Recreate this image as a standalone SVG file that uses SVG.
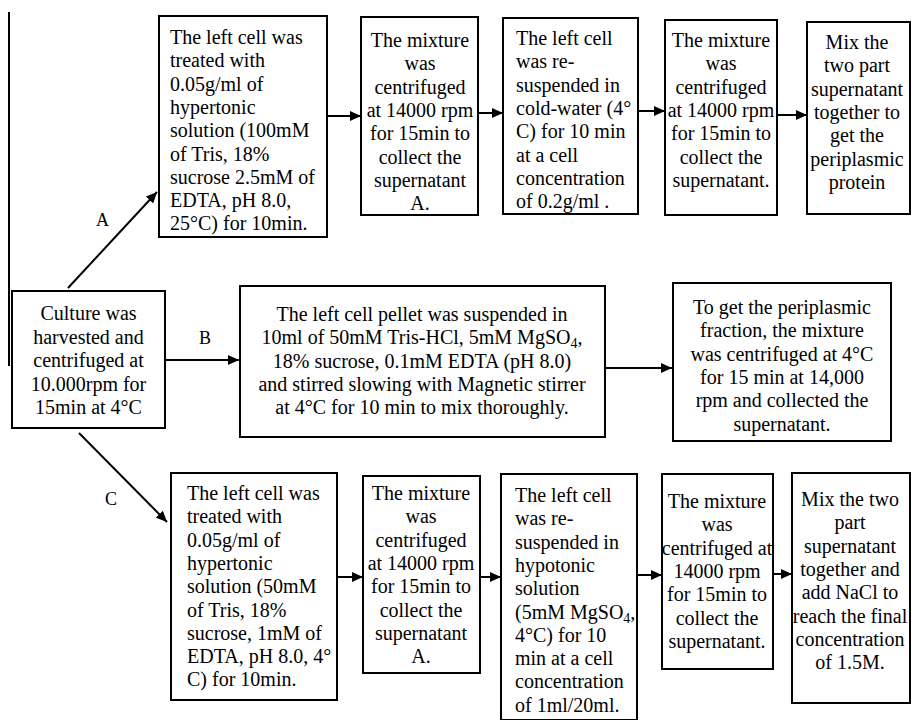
<svg xmlns="http://www.w3.org/2000/svg" width="911" height="720" viewBox="0 0 911 720">
<style>
.box{fill:#fff;stroke:#000;stroke-width:2}
text{font-family:"Liberation Serif","Times New Roman",serif;font-size:20px;fill:#000}
.c{text-anchor:middle}
.lbl{font-size:18px}
.con{stroke:#000;stroke-width:2;fill:none}
</style>
<defs>
<marker id="ah" markerUnits="userSpaceOnUse" markerWidth="12" markerHeight="10" refX="11" refY="5" orient="auto">
<path d="M0,0 L11,5 L0,10 z" fill="#000"/>
</marker>
</defs>
<rect width="911" height="720" fill="#fff"/>
<g id="connectors">
<line class="con" x1="9" y1="12" x2="9" y2="366"/>
<line class="con" x1="68" y1="288" x2="157" y2="192" marker-end="url(#ah)"/>
<line class="con" x1="165" y1="360" x2="239" y2="360" marker-end="url(#ah)"/>
<line class="con" x1="79" y1="433" x2="167" y2="522" marker-end="url(#ah)"/>
<line class="con" x1="327" y1="116" x2="361" y2="116" marker-end="url(#ah)"/>
<line class="con" x1="478" y1="113" x2="503" y2="113" marker-end="url(#ah)"/>
<line class="con" x1="638" y1="111" x2="665" y2="111" marker-end="url(#ah)"/>
<line class="con" x1="777" y1="115" x2="807" y2="115" marker-end="url(#ah)"/>
<line class="con" x1="605" y1="368" x2="672" y2="368" marker-end="url(#ah)"/>
<line class="con" x1="337" y1="577" x2="363" y2="577" marker-end="url(#ah)"/>
<line class="con" x1="480" y1="577" x2="501" y2="577" marker-end="url(#ah)"/>
<line class="con" x1="637" y1="575" x2="662" y2="575" marker-end="url(#ah)"/>
<line class="con" x1="773" y1="574" x2="792" y2="574" marker-end="url(#ah)"/>
<text class="lbl" x="96" y="226">A</text>
<text class="lbl" x="199" y="344">B</text>
<text class="lbl" x="105" y="505">C</text>
</g>
<g id="culture">
<rect class="box" x="12" y="291" width="153" height="137"/>
<text class="c" x="88.5" y="320">Culture was</text>
<text class="c" x="88.5" y="343.5">harvested and</text>
<text class="c" x="88.5" y="367">centrifuged at</text>
<text class="c" x="88.5" y="390.5">10.000rpm for</text>
<text class="c" x="88.5" y="414">15min at 4°C</text>
</g>
<g id="a1">
<rect class="box" x="159" y="16" width="168" height="221"/>
<text x="170" y="44">The left cell was</text>
<text x="170" y="67.3">treated with</text>
<text x="170" y="90.6">0.05g/ml of</text>
<text x="170" y="113.9">hypertonic</text>
<text x="170" y="137.2">solution (100mM</text>
<text x="170" y="160.5">of Tris, 18%</text>
<text x="170" y="183.8">sucrose 2.5mM of</text>
<text x="170" y="207.1">EDTA, pH 8.0,</text>
<text x="170" y="230.4">25°C) for 10min.</text>
</g>
<g id="a2">
<rect class="box" x="361" y="17" width="117" height="198"/>
<text class="c" x="420" y="47">The mixture</text>
<text class="c" x="420" y="70.3">was</text>
<text class="c" x="420" y="93.6">centrifuged</text>
<text class="c" x="420" y="116.9">at 14000 rpm</text>
<text class="c" x="420" y="140.2">for 15min to</text>
<text class="c" x="420" y="163.5">collect the</text>
<text class="c" x="420" y="186.8">supernatant</text>
<text class="c" x="420" y="210.1">A.</text>
</g>
<g id="a3">
<rect class="box" x="503" y="18" width="135" height="196"/>
<text x="516" y="45">The left cell</text>
<text x="516" y="68.3">was re-</text>
<text x="516" y="91.6">suspended in</text>
<text x="516" y="114.9">cold-water (4°</text>
<text x="516" y="138.2">C) for 10 min</text>
<text x="516" y="161.5">at a cell</text>
<text x="516" y="184.8">concentration</text>
<text x="516" y="208.1">of 0.2g/ml .</text>
</g>
<g id="a4">
<rect class="box" x="665" y="20" width="112" height="195"/>
<text class="c" x="721" y="47">The mixture</text>
<text class="c" x="721" y="70.3">was</text>
<text class="c" x="721" y="93.6">centrifuged</text>
<text class="c" x="721" y="116.9">at 14000 rpm</text>
<text class="c" x="721" y="140.2">for 15min to</text>
<text class="c" x="721" y="163.5">collect the</text>
<text class="c" x="721" y="186.8">supernatant.</text>
</g>
<g id="a5">
<rect class="box" x="807" y="22" width="103" height="192"/>
<text class="c" x="857" y="49">Mix the</text>
<text class="c" x="857" y="72.3">two part</text>
<text class="c" x="857" y="95.6">supernatant</text>
<text class="c" x="857" y="118.9">together to</text>
<text class="c" x="857" y="142.2">get the</text>
<text class="c" x="857" y="165.5">periplasmic</text>
<text class="c" x="857" y="188.8">protein</text>
</g>
<g id="b1">
<rect class="box" x="240" y="286" width="365" height="151"/>
<text class="c" x="422" y="321">The left cell pellet was suspended in</text>
<text class="c" x="422" y="344.3">10ml of 50mM Tris-HCl, 5mM MgSO<tspan font-size="14" dy="4">4</tspan><tspan dy="-4">,</tspan></text>
<text class="c" x="422" y="367.6">18% sucrose, 0.1mM EDTA (pH 8.0)</text>
<text class="c" x="422" y="390.9">and stirred slowing with Magnetic stirrer</text>
<text class="c" x="422" y="414.2">at 4°C for 10 min to mix thoroughly.</text>
</g>
<g id="b2">
<rect class="box" x="673" y="283" width="218" height="158"/>
<text class="c" x="782" y="314">To get the periplasmic</text>
<text class="c" x="782" y="337.3">fraction, the mixture</text>
<text class="c" x="782" y="360.6">was centrifuged at 4°C</text>
<text class="c" x="782" y="383.9">for 15 min at 14,000</text>
<text class="c" x="782" y="407.2">rpm and collected the</text>
<text class="c" x="782" y="430.5">supernatant.</text>
</g>
<g id="c1">
<rect class="box" x="171" y="473" width="166" height="227"/>
<text x="187" y="500">The left cell was</text>
<text x="187" y="523.3">treated with</text>
<text x="187" y="546.6">0.05g/ml of</text>
<text x="187" y="569.9">hypertonic</text>
<text x="187" y="593.2">solution (50mM</text>
<text x="187" y="616.5">of Tris, 18%</text>
<text x="187" y="639.8">sucrose, 1mM of</text>
<text x="187" y="663.1">EDTA, pH 8.0, 4°</text>
<text x="187" y="686.4">C) for 10min.</text>
</g>
<g id="c2">
<rect class="box" x="363" y="476" width="117" height="197"/>
<text class="c" x="421" y="500">The mixture</text>
<text class="c" x="421" y="523.3">was</text>
<text class="c" x="421" y="546.6">centrifuged</text>
<text class="c" x="421" y="569.9">at 14000 rpm</text>
<text class="c" x="421" y="593.2">for 15min to</text>
<text class="c" x="421" y="616.5">collect the</text>
<text class="c" x="421" y="639.8">supernatant</text>
<text class="c" x="421" y="663.1">A.</text>
</g>
<g id="c3">
<rect class="box" x="501" y="474" width="136" height="246"/>
<text x="515" y="502">The left cell</text>
<text x="515" y="525.3">was re-</text>
<text x="515" y="548.6">suspended in</text>
<text x="515" y="571.9">hypotonic</text>
<text x="515" y="595.2">solution</text>
<text x="515" y="618.5">(5mM MgSO<tspan font-size="14" dy="4">4</tspan><tspan dy="-4">,</tspan></text>
<text x="515" y="641.8">4°C) for 10</text>
<text x="515" y="665.1">min at a cell</text>
<text x="515" y="688.4">concentration</text>
<text x="515" y="711.7">of 1ml/20ml.</text>
</g>
<g id="c4">
<rect class="box" x="662" y="474" width="111" height="195"/>
<text class="c" x="717" y="508">The mixture</text>
<text class="c" x="717" y="531.3">was</text>
<text class="c" x="717" y="554.6">centrifuged at</text>
<text class="c" x="717" y="577.9">14000 rpm</text>
<text class="c" x="717" y="601.2">for 15min to</text>
<text class="c" x="717" y="624.5">collect the</text>
<text class="c" x="717" y="647.8">supernatant.</text>
</g>
<g id="c5">
<rect class="box" x="792" y="473" width="118" height="230"/>
<text class="c" x="850" y="506">Mix the two</text>
<text class="c" x="850" y="529.3">part</text>
<text class="c" x="850" y="552.6">supernatant</text>
<text class="c" x="850" y="575.9">together and</text>
<text class="c" x="850" y="599.2">add NaCl to</text>
<text class="c" x="850" y="622.5">reach the final</text>
<text class="c" x="850" y="645.8">concentration</text>
<text class="c" x="850" y="669.1">of 1.5M.</text>
</g>
</svg>
